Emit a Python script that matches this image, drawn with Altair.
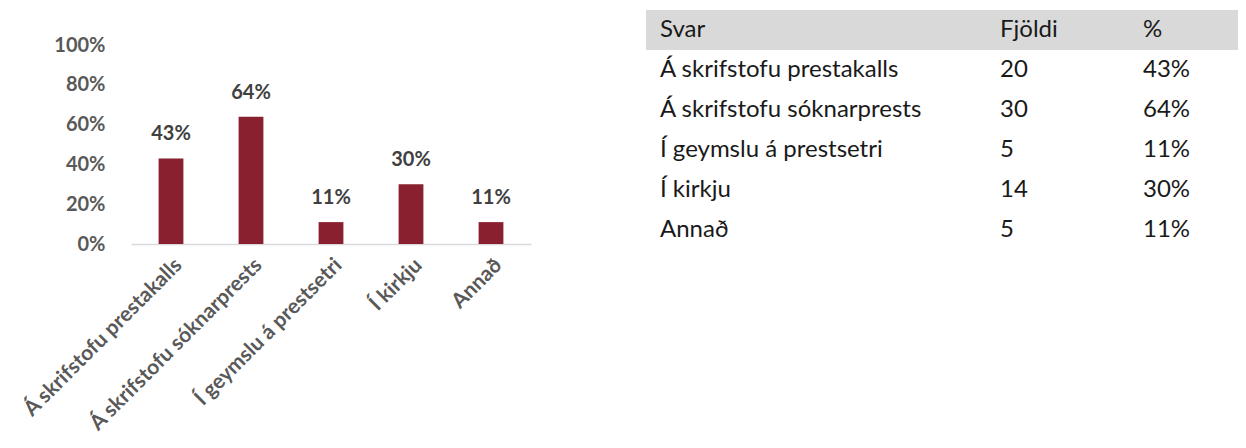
import altair as alt
import pandas as pd

categories = ["Á skrifstofu prestakalls", "Á skrifstofu sóknarprests",
              "Í geymslu á prestsetri", "Í kirkju", "Annað"]
counts = [20, 30, 5, 14, 5]
pcts = [0.43, 0.64, 0.11, 0.30, 0.11]
header = ["Svar", "Fjöldi", "%"]
y_ticks = [0, 0.2, 0.4, 0.6, 0.8, 1.0]

FONT = "Lato"
BAR = "#88202F"
GRAY = "#595959"

bars_df = pd.DataFrame({"cat": categories, "pct": pcts})

x_enc = alt.X("cat:N", sort=categories, title=None,
              scale=alt.Scale(paddingInner=0.69, paddingOuter=0.345),
              axis=alt.Axis(labelAngle=-45, labelFontSize=21, labelFontWeight="bold",
                            labelColor=GRAY, labelFont=FONT, domainColor="#d9d9d9",
                            domainWidth=1.5, ticks=False, labelPadding=10,
                            labelLimit=400))
y_enc = alt.Y("pct:Q", title=None,
              scale=alt.Scale(domain=[0, 236 / 199], nice=False, zero=True),
              axis=alt.Axis(values=y_ticks, format=".0%", labelFontSize=20,
                            labelFontWeight="bold", labelColor=GRAY, labelFont=FONT,
                            domain=False, ticks=False, grid=False, labelPadding=26,
                            minExtent=123, maxExtent=123))

base = alt.Chart(bars_df).encode(x=x_enc, y=y_enc)
bar_layer = base.mark_bar(color=BAR)
lbl_layer = base.mark_text(dy=-18, baseline="alphabetic", fontSize=20, fontWeight="bold",
                           color="#404040", font=FONT).encode(
    text=alt.Text("pct:Q", format=".0%"))
left = (bar_layer + lbl_layer).properties(width=400, height=236)

# table
rows = list(range(len(categories) + 1))
col1 = [header[0]] + categories
col2 = [header[1]] + [str(c) for c in counts]
col3 = [header[2]] + [f"{round(p * 100)}%" for p in pcts]
tbl_df = pd.DataFrame({"row": rows, "c1": col1, "c2": col2, "c3": col3})
hdr_df = pd.DataFrame({"lo": [-0.5], "hi": [0.5]})

ty = alt.Scale(domain=[-0.55, 5.35], reverse=True, nice=False, zero=False)

hdr = alt.Chart(hdr_df).mark_rect(color="#d9d9d9").encode(
    x=alt.value(0), x2=alt.value(592),
    y=alt.Y("lo:Q", scale=ty, axis=None), y2="hi:Q")

tbase = alt.Chart(tbl_df).encode(y=alt.Y("row:Q", scale=ty, axis=None))
tstyle = dict(align="left", baseline="middle", fontSize=24, font=FONT, color="#1a1a1a")
t1 = tbase.mark_text(**tstyle).encode(x=alt.value(14), text="c1:N")
t2 = tbase.mark_text(**tstyle).encode(x=alt.value(354), text="c2:N")
t3 = tbase.mark_text(**tstyle).encode(x=alt.value(497), text="c3:N")
right = (hdr + t1 + t2 + t3).properties(width=592, height=236)

chart = alt.hconcat(left, right, spacing=115).properties(padding=0).configure_view(
    stroke=None)

chart.save("out.html", embed_options={"renderer": "svg", "actions": False})
